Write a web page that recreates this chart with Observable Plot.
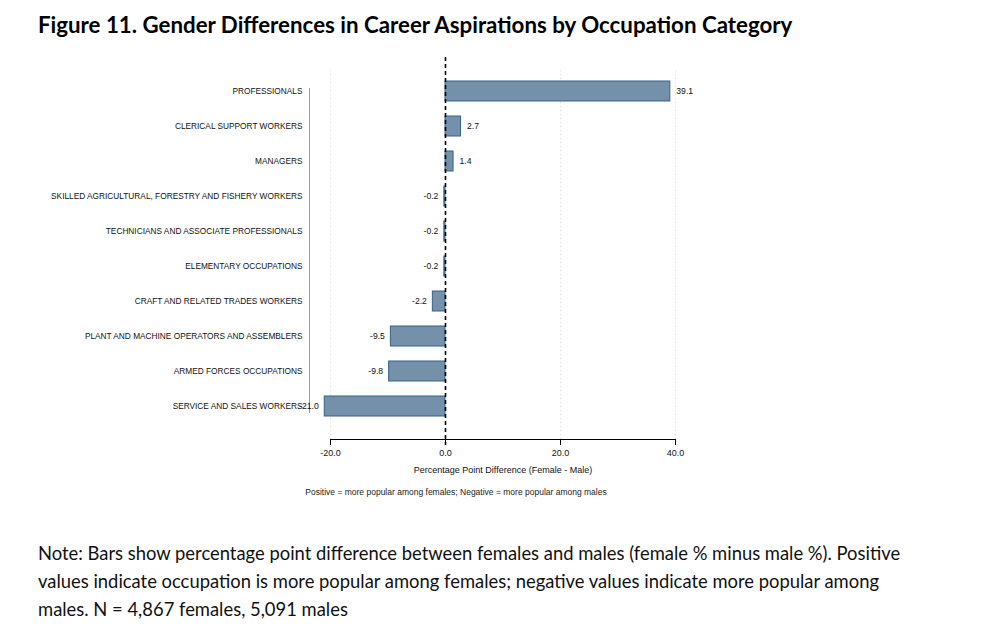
<!DOCTYPE html>
<html><head><meta charset="utf-8">
<script src="https://cdn.jsdelivr.net/npm/d3@7"></script>
<script src="https://cdn.jsdelivr.net/npm/@observablehq/plot@0.6"></script>
<style>
html,body{margin:0;padding:0;background:#fff;}
body{width:988px;height:633px;overflow:hidden;position:relative;}
#title{position:absolute;left:38px;top:11px;font-family:Lato,"Open Sans",sans-serif;font-weight:bold;font-size:22.3px;color:#000;white-space:nowrap;}
#chart{position:absolute;left:0;top:50px;}
#note{position:absolute;left:256px;width:400px;top:487px;text-align:center;font-family:"Liberation Sans",Arial,sans-serif;font-size:8.5px;color:#222;white-space:nowrap;}
#caption{position:absolute;left:38px;top:539px;width:885px;font-family:Lato,"Open Sans",sans-serif;font-size:18.4px;line-height:28px;color:#111;}
</style>
</head><body>
<div id="title">Figure 11. Gender Differences in Career Aspirations by Occupation Category</div>
<div id="chart"></div>
<div id="note">Positive = more popular among females; Negative = more popular among males</div>
<div id="caption">Note: Bars show percentage point difference between females and males (female % minus male %). Positive values indicate occupation is more popular among females; negative values indicate more popular among males. N = 4,867 females, 5,091 males</div>
<script>
const categories = [
  "PROFESSIONALS",
  "CLERICAL SUPPORT WORKERS",
  "MANAGERS",
  "SKILLED AGRICULTURAL, FORESTRY AND FISHERY WORKERS",
  "TECHNICIANS AND ASSOCIATE PROFESSIONALS",
  "ELEMENTARY OCCUPATIONS",
  "CRAFT AND RELATED TRADES WORKERS",
  "PLANT AND MACHINE OPERATORS AND ASSEMBLERS",
  "ARMED FORCES OCCUPATIONS",
  "SERVICE AND SALES WORKERS"
];
const values = [39.1, 2.7, 1.4, -0.2, -0.2, -0.2, -2.2, -9.5, -9.8, -21.0];
const xTicks = [-20, 0, 20, 40];
const gridTicks = [-20, 20, 40];
const xLabel = "Percentage Point Difference (Female - Male)";

const data = categories.map((c, i) => ({cat: c, value: values[i]}));
const fmt = d => d.toFixed(1);

const chart = Plot.plot({
  width: 988,
  height: 460,
  marginLeft: 309,
  marginRight: 313,
  marginTop: 20,
  marginBottom: 71,
  style: {fontFamily: "'Liberation Sans', Arial, sans-serif", fontSize: "8.3px", color: "#111", background: "transparent"},
  x: {domain: [-20, 40], range: [330, 675], ticks: xTicks, tickFormat: fmt},
  y: {domain: categories, range: [18.3, 377.7], paddingInner: 0.43, paddingOuter: 0.215},
  marks: [
    Plot.ruleX(gridTicks, {stroke: "#d8d8d8", strokeDasharray: "1,3"}),
    Plot.barX(data, {x: "value", y: "cat", fill: "#7591a9", stroke: "#34618c", strokeWidth: 1}),
    Plot.ruleX([0], {stroke: "#000", strokeWidth: 1.6, strokeDasharray: "4,3", insetTop: -13, insetBottom: -6}),
    Plot.frame({anchor: "left", stroke: "#999", insetTop: 18, insetBottom: 27}),
    Plot.frame({anchor: "bottom", stroke: "#000", insetLeft: 21}),
    Plot.axisX({ticks: xTicks, tickFormat: fmt, tickSize: 6, tickPadding: 4, label: null, stroke: "#000", fontSize: 9}),
    Plot.axisY({tickSize: 0, tickPadding: 7, label: null}),
    Plot.text([xLabel], {x: () => d3.mean(xTicks.filter((d, i, a) => i === 0 || i === a.length - 1)), frameAnchor: "bottom", dy: 33, text: d => d, fontSize: 9}),
    Plot.text(data.filter(d => d.value >= 0), {x: "value", y: "cat", text: d => fmt(d.value), textAnchor: "start", dx: 6, fontSize: 8.6}),
    Plot.text(data.filter(d => d.value < 0), {x: "value", y: "cat", text: d => fmt(d.value), textAnchor: "end", dx: -6, fontSize: 8.6})
  ]
});
document.getElementById("chart").appendChild(chart);
</script>
</body></html>
